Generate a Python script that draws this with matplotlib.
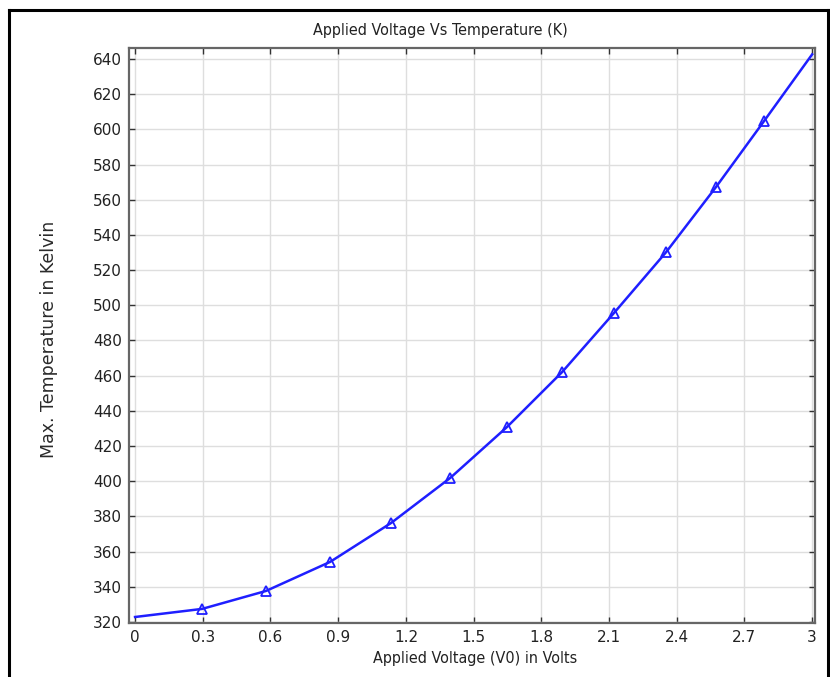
import matplotlib
matplotlib.use("Agg")
import matplotlib.pyplot as plt
from matplotlib.lines import Line2D

# Applied voltage (V) and peak temperature (K) along the sweep
voltage = [0.0, 0.297, 0.580, 0.864, 1.134, 1.396, 1.648, 1.892, 2.122,
           2.353, 2.574, 2.787, 3.0]
max_temp = [322.8, 327.4, 337.6, 354.1, 376.2, 401.8, 430.8, 462.0, 495.6,
            530.2, 567.2, 604.7, 642.6]

x_ticks = [0, 0.3, 0.6, 0.9, 1.2, 1.5, 1.8, 2.1, 2.4, 2.7, 3.0]
x_tick_labels = ["0", "0.3", "0.6", "0.9", "1.2", "1.5", "1.8", "2.1",
                 "2.4", "2.7", "3"]
y_ticks = list(range(320, 641, 20))

fig = plt.figure(figsize=(8.30, 6.77), dpi=100)
ax = fig.add_axes([0.1554, 0.0798, 0.8266, 0.8492])

ax.plot(voltage, max_temp, color="#1f1fff", linewidth=1.8,
        marker="^", markersize=7, markerfacecolor="none",
        markeredgecolor="#1f1fff", markeredgewidth=1.3,
        markevery=slice(1, -1))

ax.set_xlim(-0.027, 3.013)
ax.set_ylim(319.4, 646.2)
ax.set_xticks(x_ticks)
ax.set_xticklabels(x_tick_labels)
ax.set_yticks(y_ticks)

ax.grid(True, color="#dedede", linewidth=1.0)
ax.set_axisbelow(True)
for sp in ax.spines.values():
    sp.set_color("#666666")
    sp.set_linewidth(1.6)
ax.tick_params(direction="in", top=True, right=True, length=4,
               width=1.0, color="#333333", labelsize=11,
               labelcolor="#222222", pad=5)

narrow = dict(family="DejaVu Sans", stretch="condensed")
fig.text(440 / 830, 1 - 30 / 677, "Applied Voltage Vs Temperature (K)",
         ha="center", va="center", fontsize=11.5, color="#222222", **narrow)
fig.text(475 / 830, 1 - 659 / 677, "Applied Voltage (V0) in Volts",
         ha="center", va="center", fontsize=11.5, color="#222222", **narrow)
fig.text(49 / 830, 1 - 339 / 677, "Max. Temperature in Kelvin",
         ha="center", va="center", rotation=90, fontsize=12.5,
         color="#2a2a2a")

# outer frame (open at the bottom)
W, H = 830.0, 677.0
frame = [((9 / W, 9 / W), (0, 1 - 10 / H)),
         ((9 / W, 828 / W), (1 - 10 / H, 1 - 10 / H)),
         ((828 / W, 828 / W), (1 - 10 / H, 0))]
for xs, ys in frame:
    fig.add_artist(Line2D(xs, ys, transform=fig.transFigure,
                          color="black", linewidth=2.2))

fig.savefig("out.png", dpi=100)
